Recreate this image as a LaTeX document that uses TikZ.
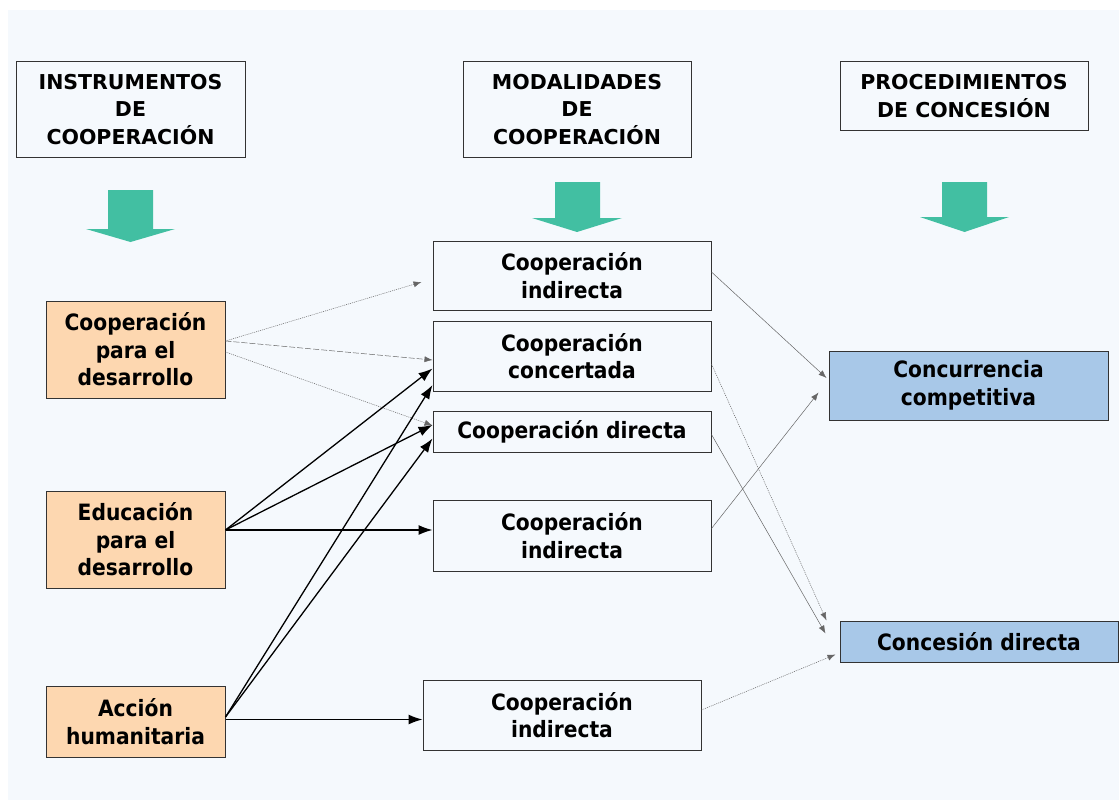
\documentclass[tikz,border=0pt]{standalone}
\usepackage{fontspec}
\setmainfont{DejaVu Sans Condensed}[BoldFont={DejaVu Sans Condensed Bold}]
\newfontfamily\cabecera{DejaVu Sans Bold}
\usetikzlibrary{arrows.meta}

\definecolor{fondo}{HTML}{F5F9FD}
\definecolor{naranja}{HTML}{FDD7B0}
\definecolor{azul}{HTML}{A8C8E8}
\definecolor{verde}{HTML}{42BFA2}

\tikzset{
    caja/.style={draw=black!80, line width=1pt, fill=fondo, inner sep=0pt, align=center,
        font=\bfseries\fontsize{22.5}{27.5}\selectfont},
    titulo/.style={caja, font=\cabecera\fontsize{20.5}{27.5}\selectfont},
    instr/.style={caja, fill=naranja},
    proc/.style={caja, fill=azul},
    negra/.style={-{Latex[length=14pt,width=10pt]}, line width=1.3pt},
    gris/.style={-{Latex[length=8pt,width=6pt]}, gray!80!black, line width=0.5pt},
    punteada/.style={gris, dash pattern=on 1pt off 1pt},
    rayada/.style={gris, dash pattern=on 6pt off 2pt}
}

\begin{document}
\begin{tikzpicture}[x=1pt, y=-1pt]
        \useasboundingbox (0,0) rectangle (1119,800);
        \fill[white] (0,0) rectangle (1119,800);
        \fill[fondo] (8,10) rectangle (1119,800);

        % cabeceras
        \node[titulo, minimum width=229pt, minimum height=95pt] (H1) at (130.5,109.5) {INSTRUMENTOS\\DE\\COOPERACIÓN};
        \node[titulo, minimum width=228pt, minimum height=95pt] (H2) at (577,109.5) {MODALIDADES\\DE\\COOPERACIÓN};
        \node[titulo, minimum width=248pt, minimum height=68pt] (H3) at (964,96) {PROCEDIMIENTOS\\DE CONCESIÓN};

        % flechas verdes
        \fill[verde] (108,190) -- (153,190) -- (153,229) -- (175,229) -- (130.5,242) -- (86,229) -- (108,229) -- cycle;
        \fill[verde] (555,182) -- (600,182) -- (600,218) -- (622,218) -- (577,232) -- (532,218) -- (555,218) -- cycle;
        \fill[verde] (942,182) -- (987,182) -- (987,217) -- (1009,217) -- (964.5,232) -- (920,217) -- (942,217) -- cycle;

        % instrumentos
        \node[instr, minimum width=179pt, minimum height=97pt] (L1) at (135.5,349.5) {Cooperación\\para el\\desarrollo};
        \node[instr, minimum width=179pt, minimum height=97pt] (L2) at (135.5,539.5) {Educación\\para el\\desarrollo};
        \node[instr, minimum width=179pt, minimum height=71pt] (L3) at (135.5,721.5) {Acción\\humanitaria};

        % modalidades
        \node[caja, minimum width=278pt, minimum height=69pt] (M1) at (572,275.5) {Cooperación\\indirecta};
        \node[caja, minimum width=278pt, minimum height=70pt] (M2) at (572,356) {Cooperación\\concertada};
        \node[caja, minimum width=278pt, minimum height=41pt] (M3) at (572,431.5) {Cooperación directa};
        \node[caja, minimum width=278pt, minimum height=71pt] (M4) at (572,535.5) {Cooperación\\indirecta};
        \node[caja, minimum width=278pt, minimum height=70pt] (M5) at (562,715) {Cooperación\\indirecta};

        % procedimientos
        \node[proc, minimum width=279pt, minimum height=69pt] (R1) at (968.5,385.5) {Concurrencia\\competitiva};
        \node[proc, minimum width=278pt, minimum height=41pt] (R2) at (979,641.5) {Concesión directa};

        % cooperacion para el desarrollo
        \draw[punteada] ([yshift=8.5pt]L1.east) -- ([xshift=-11pt,yshift=-6.5pt]M1.west);
        \draw[rayada] ([yshift=8.5pt]L1.east) -- ([yshift=-4pt]M2.west);
        \draw[punteada] ([yshift=-2.5pt]L1.east) -- ([yshift=6pt]M3.west);

        % educacion para el desarrollo
        \draw[negra] ([yshift=9.5pt]L2.east) -- ([yshift=-12.5pt]M2.west);
        \draw[negra] ([yshift=9.5pt]L2.east) -- ([yshift=6.5pt]M3.west);
        \draw[negra] ([yshift=9.5pt]L2.east) -- ([yshift=5.5pt]M4.west);

        % accion humanitaria
        \draw[negra] ([yshift=4.5pt]L3.east) -- ([yshift=-29pt]M2.west);
        \draw[negra] ([yshift=4.5pt]L3.east) -- ([yshift=-7pt]M3.west);
        \draw[negra] ([yshift=2pt]L3.east) -- ([yshift=-4.5pt]M5.west);

        % modalidades -> procedimientos
        \draw[gris] ([yshift=3.5pt]M1.east) -- ([xshift=-2pt,yshift=7.5pt]R1.west);
        \draw[punteada] ([yshift=-8pt]M2.east) -- ([xshift=-13pt,yshift=21pt]R2.west);
        \draw[gris] ([yshift=-3pt]M3.east) -- ([xshift=-14pt,yshift=8pt]R2.west);
        \draw[gris] ([yshift=7pt]M4.east) -- ([xshift=-10pt,yshift=-7pt]R1.west);
        \draw[punteada] ([yshift=5pt]M5.east) -- ([xshift=-4pt,yshift=-13pt]R2.west);
    \end{tikzpicture}
\end{document}
